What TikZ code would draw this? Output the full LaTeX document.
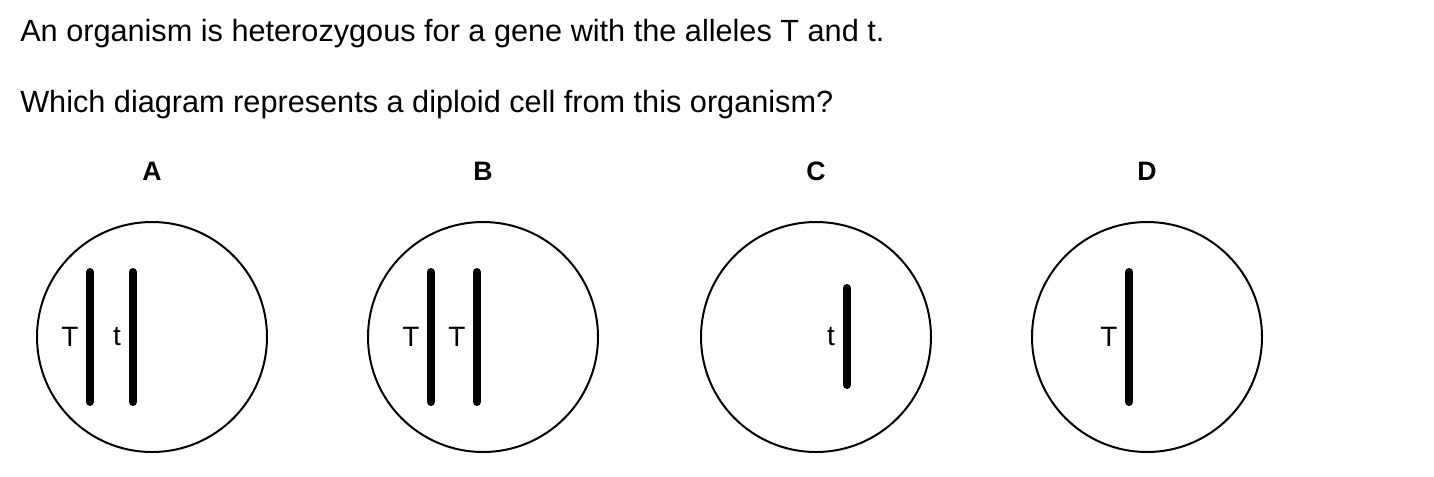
\documentclass[tikz,border=0pt]{standalone}
\usepackage{fontspec}
\setmainfont{Liberation Sans}
\usetikzlibrary{positioning}
\tikzset{
  cell/.style={circle, draw, line width=1.5pt, minimum size=172.5pt, inner sep=0},
  chromo/.style={line width=6pt, line cap=round},
  allele/.style={inner sep=0, font=\fontsize{21}{25}\selectfont},
  cellname/.style={anchor=base, inner sep=0, font=\fontsize{20}{24}\selectfont\bfseries},
  question/.style={anchor=base west, inner sep=0, font=\fontsize{23}{27}\selectfont},
}

\begin{document}
\begin{tikzpicture}[x=0.75pt, y=-0.75pt]
    \useasboundingbox (0,0) rectangle (1434,476);
    \node[question] (line1) at (20,41) {An organism is heterozygous for a gene with the alleles T and t.};
    \node[question] (line2) at (20,112) {Which diagram represents a diploid cell from this organism?};
    % the four cells
    \node[cell] (cellA) at (152,337) {};
    \node[cell] (cellB) at (483,337) {};
    \node[cell] (cellC) at (816,337) {};
    \node[cell] (cellD) at (1147,337) {};
    \node[cellname] (nameA) at ([yshift=30.75pt]cellA.north) {A};
    \node[cellname] (nameB) at ([yshift=30.75pt]cellB.north) {B};
    \node[cellname] (nameC) at ([yshift=30.75pt]cellC.north) {C};
    \node[cellname] (nameD) at ([yshift=30.75pt]cellD.north) {D};
    % chromosomes and their alleles
    \draw[chromo] (cellA.center) ++(-62,-65) -- ++(0,130);
    \draw[chromo] (cellA.center) ++(-19,-65) -- ++(0,130);
    \node[allele] (alA1) at ([xshift=-61.5pt]cellA.center) {T};
    \node[allele] (alA2) at ([xshift=-26.25pt]cellA.center) {t};
    \draw[chromo] (cellB.center) ++(-52,-65) -- ++(0,130);
    \draw[chromo] (cellB.center) ++(-6,-65) -- ++(0,130);
    \node[allele] (alB1) at ([xshift=-54pt]cellB.center) {T};
    \node[allele] (alB2) at ([xshift=-19.5pt]cellB.center) {T};
    \draw[chromo] (cellC.center) ++(31,-49) -- ++(0,97);
    \node[allele] (alC1) at ([xshift=11.25pt]cellC.center) {t};
    \draw[chromo] (cellD.center) ++(-18,-65) -- ++(0,130);
    \node[allele] (alD1) at ([xshift=-28.5pt]cellD.center) {T};
\end{tikzpicture}
\end{document}
